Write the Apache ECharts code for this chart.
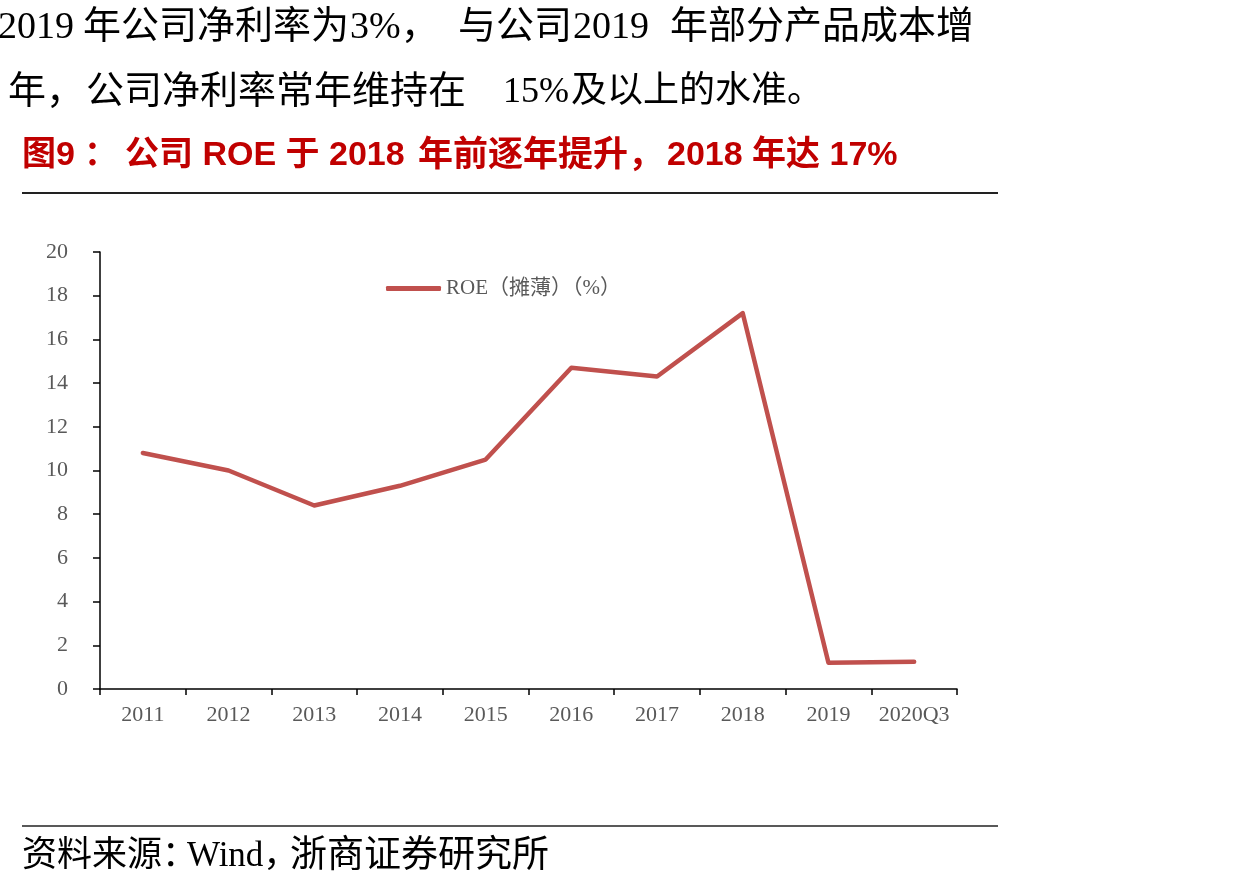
<!DOCTYPE html>
<html>
<head>
<meta charset="utf-8">
<title>公司ROE</title>
<style type="text/css">
	html,body {
		margin: 0;
		padding: 0;
		background: #FFFFFF;
	}
	#chart {
		width: 1243px;
		height: 889px;
	}
</style>
</head>
<body>
<div id="chart"></div>
<script src="https://cdn.jsdelivr.net/npm/echarts@6/dist/echarts.min.js"></script>
<script type="text/javascript">
	// 数据
	var years = ['2011', '2012', '2013', '2014', '2015', '2016', '2017', '2018', '2019', '2020Q3'];
	var roeValues = [10.8, 10.0, 8.4, 9.3, 10.5, 14.7, 14.3, 17.2, 1.2, 1.25];
	var seriesName = 'ROE（摊薄）（%）';
	var yMin = 0, yMax = 20, yStep = 2;

	var serif = "'Liberation Serif', 'Noto Sans CJK SC', serif";
	var sansBold = "'Liberation Sans', 'Noto Sans CJK SC', sans-serif";
	var red = '#C00000';

	// 文字片段
	function txt(str, x, y, size, font, color, weight) {
		return {
			type: 'text',
			x: x,
			y: y,
			silent: true,
			style: {
				text: str,
				fontSize: size,
				fontFamily: font,
				fontWeight: weight || 'normal',
				fill: color || '#000',
				textVerticalAlign: 'middle'
			}
		};
	}

	var graphics = [
		// 正文第一行
		txt('2019', -2, 28, 38, serif),
		txt('年公司净利率为', 83, 28, 38, serif),
		txt('3%，', 350, 28, 38, serif),
		txt('与公司', 458, 28, 38, serif),
		txt('2019', 573, 28, 38, serif),
		txt('年部分产品成本增', 670, 28, 38, serif),
		// 正文第二行
		txt('年，', 8, 93, 38, serif),
		txt('公司净利率常年维持在', 86, 93, 38, serif),
		txt('15%', 503, 93, 36, serif),
		txt('及以上的水准。', 571, 93, 36, serif),
		// 标题
		txt('图9', 22, 156, 34, sansBold, red, 'bold'),
		txt('：', 84, 156, 34, sansBold, red, 'bold'),
		txt('公司 ROE 于 2018', 125, 156, 34, sansBold, red, 'bold'),
		txt('年前逐年提升，', 418, 156, 35, sansBold, red, 'bold'),
		txt('2018 年达 17%', 667, 156, 34, sansBold, red, 'bold'),
		// 分隔线
		{
			type: 'line',
			silent: true,
			shape: { x1: 22, y1: 193, x2: 998, y2: 193 },
			style: { stroke: '#222', lineWidth: 2 }
		},
		{
			type: 'line',
			silent: true,
			shape: { x1: 22, y1: 826, x2: 998, y2: 826 },
			style: { stroke: '#222', lineWidth: 1.5 }
		},
		// 资料来源
		txt('资料来源：', 22, 857, 35, serif),
		txt('Wind，', 187, 857, 35, serif),
		txt('浙商证券研究所', 290, 857, 37, serif)
	];

	var myChart = echarts.init(document.getElementById('chart'));
	var option = {
		backgroundColor: '#FFFFFF',
		animation: false,
		graphic: graphics,
		legend: {
			data: [seriesName],
			left: 381,
			top: 273,
			icon: 'roundRect',
			itemWidth: 55,
			itemHeight: 5,
			textStyle: {
				fontSize: 21,
				fontFamily: serif,
				color: '#595959'
			}
		},
		grid: {
			left: 100,
			right: 286,
			top: 252,
			bottom: 200
		},
		xAxis: {
			type: 'category',
			boundaryGap: true,
			data: years,
			axisLine: { lineStyle: { color: '#000', width: 1.5 } },
			axisTick: { show: true, interval: 0, length: 6, lineStyle: { color: '#000', width: 1.5 } },
			axisLabel: {
				interval: 0,
				hideOverlap: false,
				margin: 15,
				fontSize: 22,
				fontFamily: serif,
				color: '#595959'
			},
			splitLine: { show: false }
		},
		yAxis: {
			type: 'value',
			min: yMin,
			max: yMax,
			interval: yStep,
			axisLine: { show: true, lineStyle: { color: '#000', width: 1.5 } },
			axisTick: { show: true, length: 7, lineStyle: { color: '#000', width: 1.5 } },
			axisLabel: {
				margin: 32,
				fontSize: 22,
				fontFamily: serif,
				color: '#595959'
			},
			splitLine: { show: false }
		},
		series: [{
			name: seriesName,
			type: 'line',
			data: roeValues,
			symbol: 'none',
			smooth: false,
			itemStyle: { color: '#C0504D' },
			lineStyle: {
				color: '#C0504D',
				width: 4.5,
				cap: 'round',
				join: 'round'
			}
		}]
	};
	myChart.setOption(option);
</script>
</body>
</html>
